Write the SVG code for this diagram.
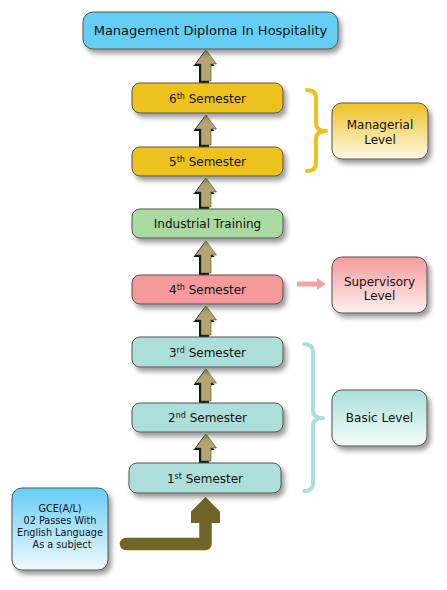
<svg xmlns="http://www.w3.org/2000/svg" width="447" height="590" viewBox="0 0 447 590">
<style>
.box{stroke:#555;stroke-width:1;filter:url(#sh)}
.t{font-family:"DejaVu Sans",Verdana,sans-serif;font-size:12px;fill:#111;text-anchor:middle}
.tt{font-size:13px}
.ts{font-family:"DejaVu Sans",Verdana,sans-serif;font-size:9.7px;fill:#111;text-anchor:middle}
.sup{font-size:8px}
.ar{fill:#b3a56d;stroke:#444;stroke-width:0.6}
.ash{fill:#111}
.brace{fill:none;stroke-width:4;stroke-linecap:round;stroke-linejoin:round}
</style>
<defs>
<filter id="sh" x="-20%" y="-30%" width="150%" height="180%">
<feDropShadow dx="3" dy="4" stdDeviation="2.5" flood-color="#000" flood-opacity="0.4"/>
</filter>
<linearGradient id="gGold" x1="0" y1="0" x2="0" y2="1"><stop offset="0" stop-color="#efc225"/><stop offset="1" stop-color="#fdf8e6"/></linearGradient>
<linearGradient id="gPink" x1="0" y1="0" x2="0" y2="1"><stop offset="0" stop-color="#f49a9a"/><stop offset="1" stop-color="#fdf0f0"/></linearGradient>
<linearGradient id="gTeal" x1="0" y1="0" x2="0" y2="1"><stop offset="0" stop-color="#acdfda"/><stop offset="1" stop-color="#f3fbfa"/></linearGradient>
<linearGradient id="gBlue" x1="0" y1="0" x2="0" y2="1"><stop offset="0" stop-color="#66cdf5"/><stop offset="1" stop-color="#f0f9fd"/></linearGradient>
</defs>
<rect width="447" height="590" fill="#fff"/>

<g id="connectors">
<g transform="translate(206,50)"><polygon class="ash" transform="translate(-2,2)" points="0,0 10.5,14 5,14 5,31 -5,31 -5,14 -10.5,14"/><polygon class="ar" points="0,0 10.5,14 5,14 5,31 -5,31 -5,14 -10.5,14"/></g>
<g transform="translate(206,115)"><polygon class="ash" transform="translate(-2,2)" points="0,0 10.5,14 5,14 5,30 -5,30 -5,14 -10.5,14"/><polygon class="ar" points="0,0 10.5,14 5,14 5,30 -5,30 -5,14 -10.5,14"/></g>
<g transform="translate(206,178)"><polygon class="ash" transform="translate(-2,2)" points="0,0 10.5,14 5,14 5,29 -5,29 -5,14 -10.5,14"/><polygon class="ar" points="0,0 10.5,14 5,14 5,29 -5,29 -5,14 -10.5,14"/></g>
<g transform="translate(206,241)"><polygon class="ash" transform="translate(-2,2)" points="0,0 10.5,14 5,14 5,32 -5,32 -5,14 -10.5,14"/><polygon class="ar" points="0,0 10.5,14 5,14 5,32 -5,32 -5,14 -10.5,14"/></g>
<g transform="translate(206,306)"><polygon class="ash" transform="translate(-2,2)" points="0,0 10.5,14 5,14 5,29 -5,29 -5,14 -10.5,14"/><polygon class="ar" points="0,0 10.5,14 5,14 5,29 -5,29 -5,14 -10.5,14"/></g>
<g transform="translate(206,369)"><polygon class="ash" transform="translate(-2,2)" points="0,0 10.5,14 5,14 5,32 -5,32 -5,14 -10.5,14"/><polygon class="ar" points="0,0 10.5,14 5,14 5,32 -5,32 -5,14 -10.5,14"/></g>
<g transform="translate(206,434)"><polygon class="ash" transform="translate(-2,2)" points="0,0 10.5,14 5,14 5,27 -5,27 -5,14 -10.5,14"/><polygon class="ar" points="0,0 10.5,14 5,14 5,27 -5,27 -5,14 -10.5,14"/></g>
<polygon fill="#f4a3a3" points="297,281.5 317,281.5 317,278 326,284 317,290 317,286.5 297,286.5"/>
<path d="M126,544 L205.5,544 L205.5,518" fill="none" stroke="#6f6526" stroke-width="12.5" stroke-linecap="round" stroke-linejoin="round"/>
<polygon fill="#6f6526" points="205.5,497 220,511.5 220,523 191,523 191,511.5"/>
<path class="brace" stroke="#efc020" d="M307,90 Q316,90 316,98 L316,123 Q316,131 326,131 Q316,131 316,139 L316,163 Q316,171 307,171"/>
<path class="brace" stroke="#acdfda" d="M304,344 Q313,344 313,352 L313,410 Q313,418 323,418 Q313,418 313,426 L313,483 Q313,491 304,491"/>
</g>

<g id="title"><rect class="box" x="83" y="12" width="255" height="37" rx="10" fill="#66cdf5"/><text class="t tt" x="210.5" y="35">Management Diploma In Hospitality</text></g>
<g id="sem6"><rect class="box" x="132" y="83" width="151" height="30" rx="8" fill="#eec21b"/><text class="t" x="207.5" y="102.5">6<tspan class="sup" dy="-4">th</tspan><tspan dy="4"> Semester</tspan></text></g>
<g id="sem5"><rect class="box" x="132" y="147" width="151" height="29" rx="8" fill="#eec21b"/><text class="t" x="207.5" y="166">5<tspan class="sup" dy="-4">th</tspan><tspan dy="4"> Semester</tspan></text></g>
<g id="training"><rect class="box" x="132" y="209" width="151" height="29" rx="8" fill="#aad9a2"/><text class="t" x="207.5" y="228">Industrial Training</text></g>
<g id="sem4"><rect class="box" x="132" y="275" width="151" height="29" rx="8" fill="#f49a9a"/><text class="t" x="207.5" y="294">4<tspan class="sup" dy="-4">th</tspan><tspan dy="4"> Semester</tspan></text></g>
<g id="sem3"><rect class="box" x="132" y="337" width="151" height="30" rx="8" fill="#addfda"/><text class="t" x="207.5" y="356.5">3<tspan class="sup" dy="-4">rd</tspan><tspan dy="4"> Semester</tspan></text></g>
<g id="sem2"><rect class="box" x="132" y="403" width="151" height="29" rx="8" fill="#addfda"/><text class="t" x="207.5" y="422">2<tspan class="sup" dy="-4">nd</tspan><tspan dy="4"> Semester</tspan></text></g>
<g id="sem1"><rect class="box" x="129" y="463" width="152" height="30" rx="8" fill="#addfda"/><text class="t" x="205" y="482.5">1<tspan class="sup" dy="-4">st</tspan><tspan dy="4"> Semester</tspan></text></g>

<g id="managerial"><rect class="box" x="332" y="103" width="96" height="56" rx="10" fill="url(#gGold)"/><text class="t" x="380" y="129">Managerial</text><text class="t" x="380" y="144">Level</text></g>
<g id="supervisory"><rect class="box" x="332" y="257" width="95" height="56" rx="10" fill="url(#gPink)"/><text class="t" x="379.5" y="286">Supervisory</text><text class="t" x="379.5" y="300">Level</text></g>
<g id="basic"><rect class="box" x="332" y="390" width="95" height="56" rx="10" fill="url(#gTeal)"/><text class="t" x="379.5" y="422">Basic Level</text></g>
<g id="gce"><rect class="box" x="12" y="488" width="96" height="82" rx="10" fill="url(#gBlue)"/>
<text class="ts" x="60" y="512">GCE(A/L)</text><text class="ts" x="60" y="524">02 Passes With</text><text class="ts" x="60" y="536">English Language</text><text class="ts" x="62" y="548">As a subject</text></g>
</svg>
